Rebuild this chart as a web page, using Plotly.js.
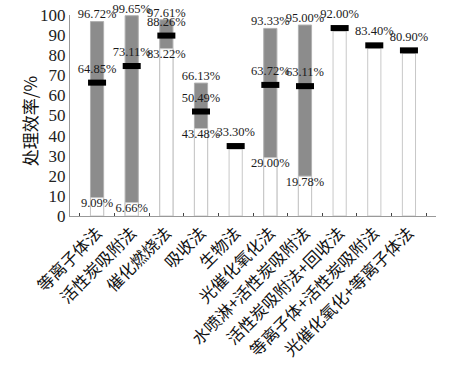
<!DOCTYPE html>
<html><head><meta charset="utf-8">
<script src="https://cdn.plot.ly/plotly-3.0.1.min.js"></script>
<style>html,body{margin:0;padding:0;background:#fff;}#c{width:454px;height:371px;}</style>
</head><body><div id="c"></div>
<script>
const categories = ['等离子体法','活性炭吸附法','催化燃烧法','吸收法','生物法','光催化氧化法','水喷淋+活性炭吸附法','活性炭吸附法+回收法','等离子体+活性炭吸附法','光催化氧化+等离子体法'];
const minVals  = [9.09, 6.66, 83.22, 43.48, null, 29.00, 19.78, null, null, null];
const meanVals = [64.85, 73.11, 88.26, 50.49, 33.30, 63.72, 63.11, 92.00, 83.40, 80.90];
const maxVals  = [96.72, 99.65, 97.61, 66.13, null, 93.33, 95.00, null, null, null];
const yTicks = [0,10,20,30,40,50,60,70,80,90,100];

const fmt = v => v == null ? '' : v.toFixed(2) + '%';
const lblFont = {family: 'Liberation Serif, Times New Roman, serif', size: 12.5, color: '#1a1a1a'};
const markThick = 3;

const traces = [
  {type:'bar', x:categories, y:maxVals, width:0.38,
   marker:{color:'#8c8c8c', line:{color:'#b0b0b0', width:1}}, hoverinfo:'skip'},
  {type:'bar', x:categories, y:minVals.map((v,i)=> v==null ? meanVals[i] : v), width:0.38,
   marker:{color:'#ffffff', line:{color:'#c8c8c8', width:1}}, hoverinfo:'skip'},
  {type:'bar', x:categories, base:meanVals, y:categories.map(()=>markThick), width:0.52,
   marker:{color:'#000', line:{width:0}}, hoverinfo:'skip'},
  {type:'scatter', mode:'markers+text', x:categories, y:meanVals,
   marker:{size:14, opacity:0},
   text:meanVals.map(fmt), textposition:'top center', textfont:lblFont, cliponaxis:false},
  {type:'scatter', mode:'text', x:categories, y:maxVals,
   text:maxVals.map(fmt), textposition:'top center', textfont:lblFont, cliponaxis:false},
  {type:'scatter', mode:'text', x:categories, y:minVals,
   text:minVals.map(fmt), textposition:'bottom center', textfont:lblFont, cliponaxis:false}
];

const layout = {
  width:454, height:371, showlegend:false, barmode:'overlay',
  paper_bgcolor:'#fff', plot_bgcolor:'#fff',
  margin:{l:70, r:18, t:15, b:155},
  xaxis:{type:'category', tickangle:-45, showline:true, linecolor:'#999', linewidth:1,
    ticks:'inside', ticklen:3, tickcolor:'#444', tickson:'boundaries', showgrid:false, zeroline:false,
    tickfont:{family:'Noto Sans CJK SC', size:16.5, color:'#111'}},
  yaxis:{range:[0,100], tickvals:yTicks, showline:true, linecolor:'#999', linewidth:1,
    ticks:'', showgrid:false, zeroline:false,
    tickfont:{family:'Liberation Serif, Times New Roman, serif', size:17, color:'#222'}},
  annotations:[{text:'处理效率/%', xref:'paper', yref:'paper', x:-0.11, y:0.47,
    xanchor:'center', yanchor:'middle', textangle:-90, showarrow:false,
    font:{family:'Noto Sans CJK SC', size:17, color:'#111'}}]
};
Plotly.newPlot('c', traces, layout, {staticPlot:true});
</script></body></html>
